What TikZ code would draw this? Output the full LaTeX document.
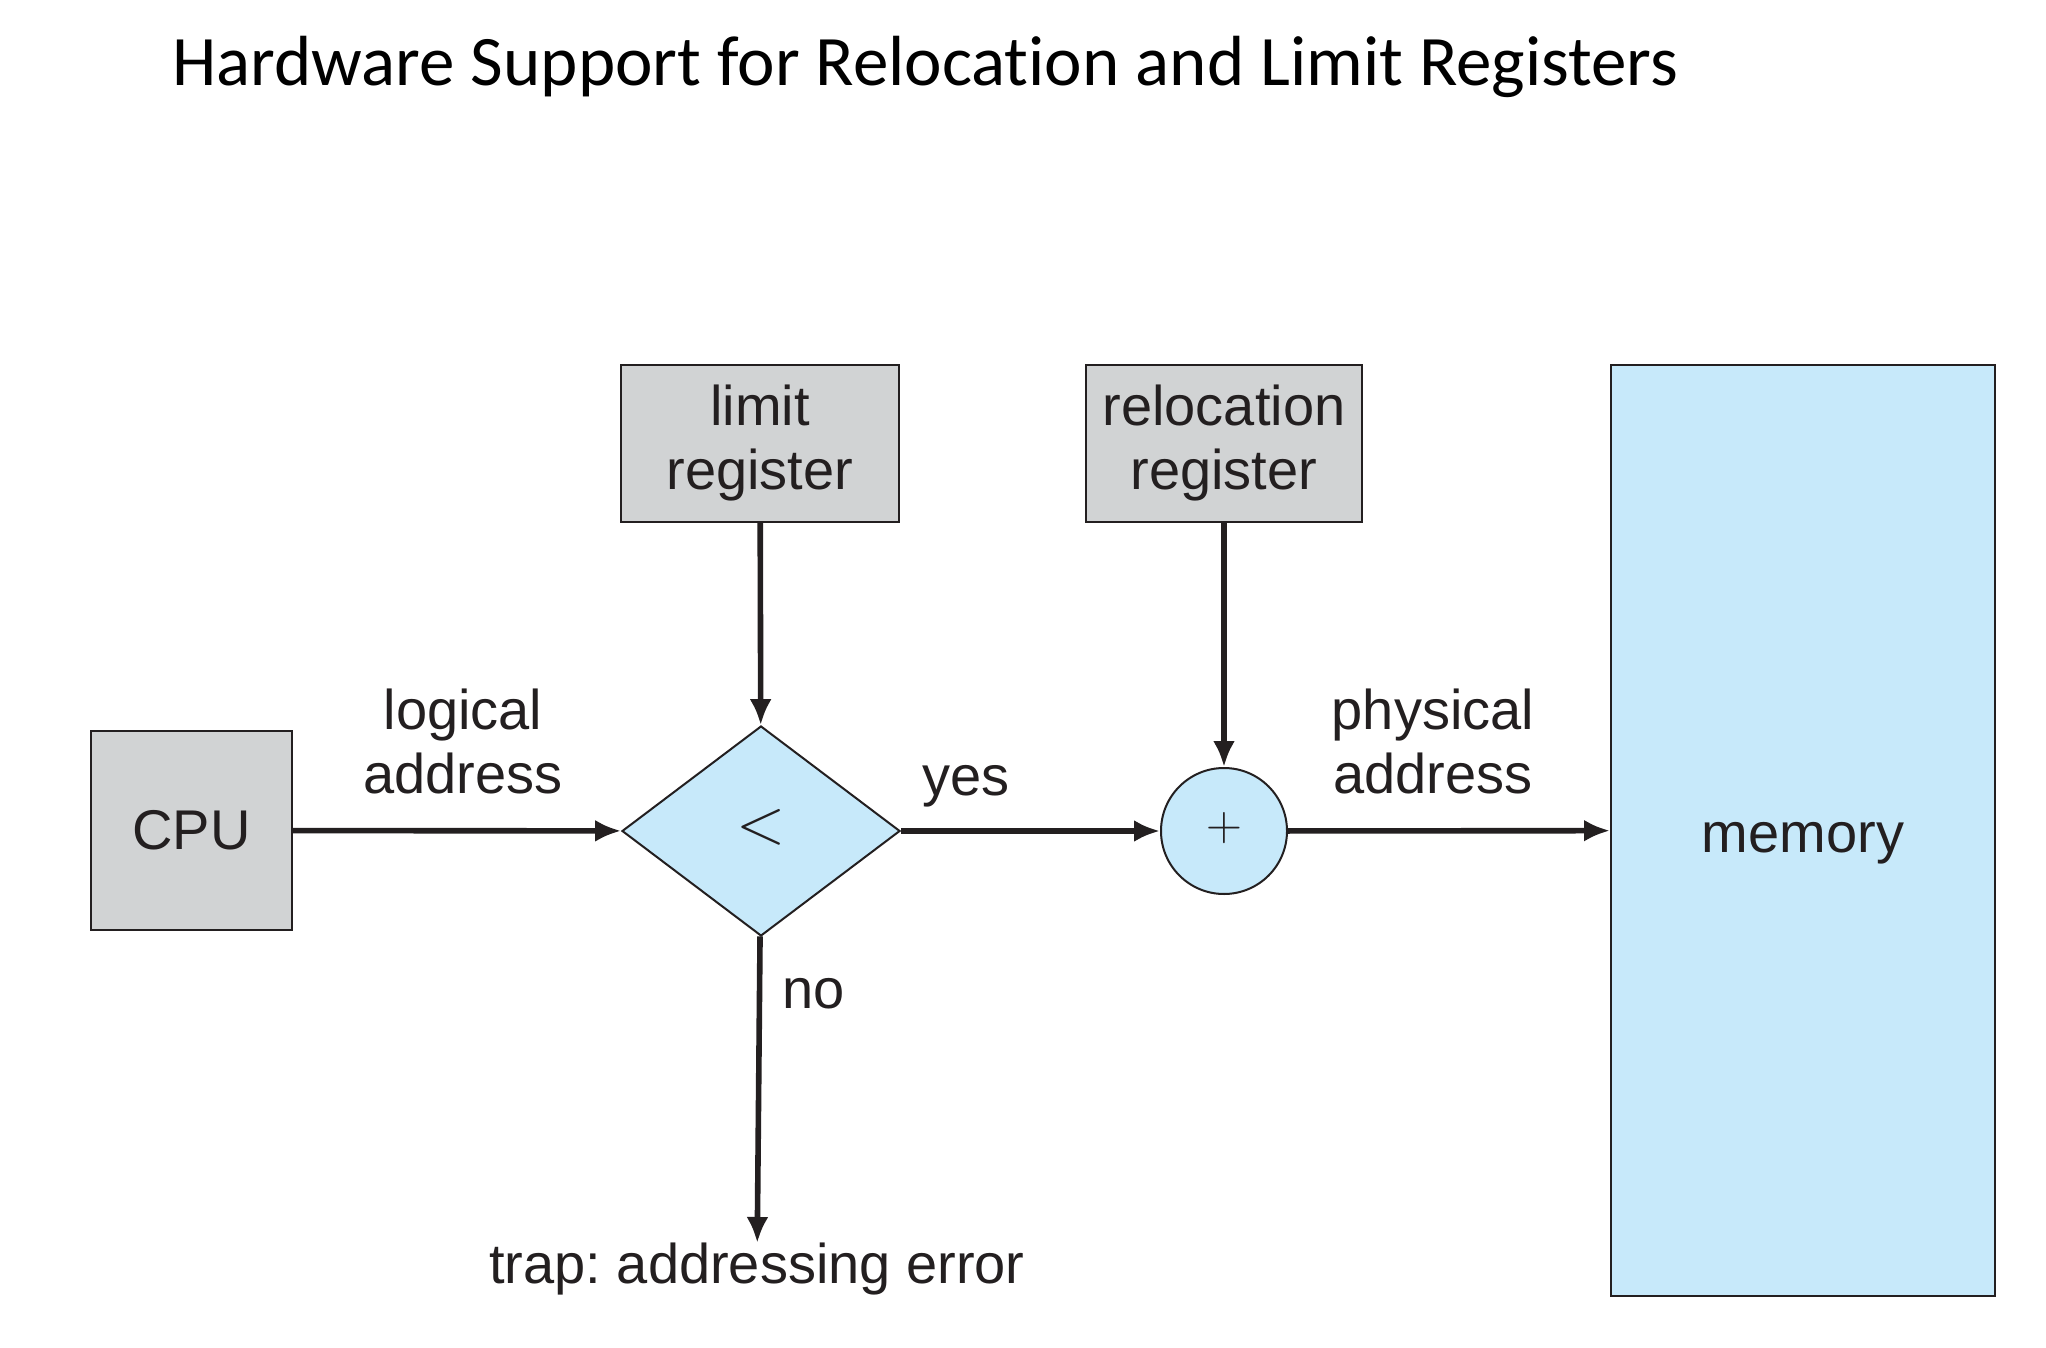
\documentclass[tikz,border=0pt]{standalone}
\usepackage{fontspec}
\setmainfont{Liberation Sans}
\newfontfamily\titlefont[Ligatures=NoCommon]{Carlito}
\usetikzlibrary{arrows.meta,shapes.geometric}
\definecolor{regfill}{RGB}{209,211,212}
\definecolor{hwblue}{RGB}{199,233,250}
\definecolor{ink}{RGB}{35,31,32}
\tikzset{
  regbox/.style={draw=ink, line width=1pt, fill=regfill, inner sep=0pt, align=center, text=ink},
  flow/.style={-{Latex[length=13pt,width=11pt]}, line width=2.8pt, draw=ink},
  lbl/.style={align=center, text=ink, inner sep=0pt}
}
\frenchspacing
\begin{document}
\begin{tikzpicture}[x=0.5pt, y=-0.5pt, font=\fontsize{28}{32}\selectfont]
  \useasboundingbox[fill=white] (0,0) rectangle (2046,1348);
  % title
  \node[anchor=base west, inner sep=0pt] (title) at (172,86) {\titlefont\fontsize{35.5}{42}\selectfont Hardware Support for Relocation and Limit Registers};
  % boxes
  \node[regbox, minimum width=100.5pt, minimum height=99.5pt] (cpu) at (191.5,830.5) {CPU};
  \node[regbox, minimum width=139pt, minimum height=78.5pt] (limit) at (760,443.5) {limit\\register};
  \node[regbox, minimum width=138pt, minimum height=78.5pt] (reloc) at (1224,443.5) {relocation\\register};
  \node[regbox, fill=hwblue, minimum width=192pt, minimum height=465.5pt] (memory) at (1803,830.5) {};
  \node[lbl] (memlabel) at (1803,843) {memory};
  \node[shape=diamond, draw=ink, line width=1pt, fill=hwblue, inner sep=0pt,
        minimum width=139pt, minimum height=105pt] (cmp) at (761,831) {};
  \node[lbl, scale=1.3] (lt) at (761,827) {$<$};
  \node[shape=circle, draw=ink, line width=1pt, fill=hwblue, inner sep=0pt,
        minimum size=63pt] (add) at (1224,831) {};
  \node[lbl] (plus) at (1224,828) {$+$};
  \node[lbl, anchor=north] (trap) at (757,1243) {trap: addressing error};
  % labels
  \node[lbl] (logaddr) at (463,741) {logical\\address};
  \node[lbl] (yes) at (966,786) {yes};
  \node[lbl] (phyaddr) at (1433,741) {physical\\address};
  \node[lbl] (no) at (814,994) {no};
  % connectors
  \draw[flow] (cpu) -- (cmp);
  \draw[flow] (limit) -- (cmp);
  \draw[flow] (cmp) -- (add);
  \draw[flow] (reloc) -- (add);
  \draw[flow] (add) -- (memory);
  \draw[flow] (cmp) -- (trap);
\end{tikzpicture}
\end{document}
